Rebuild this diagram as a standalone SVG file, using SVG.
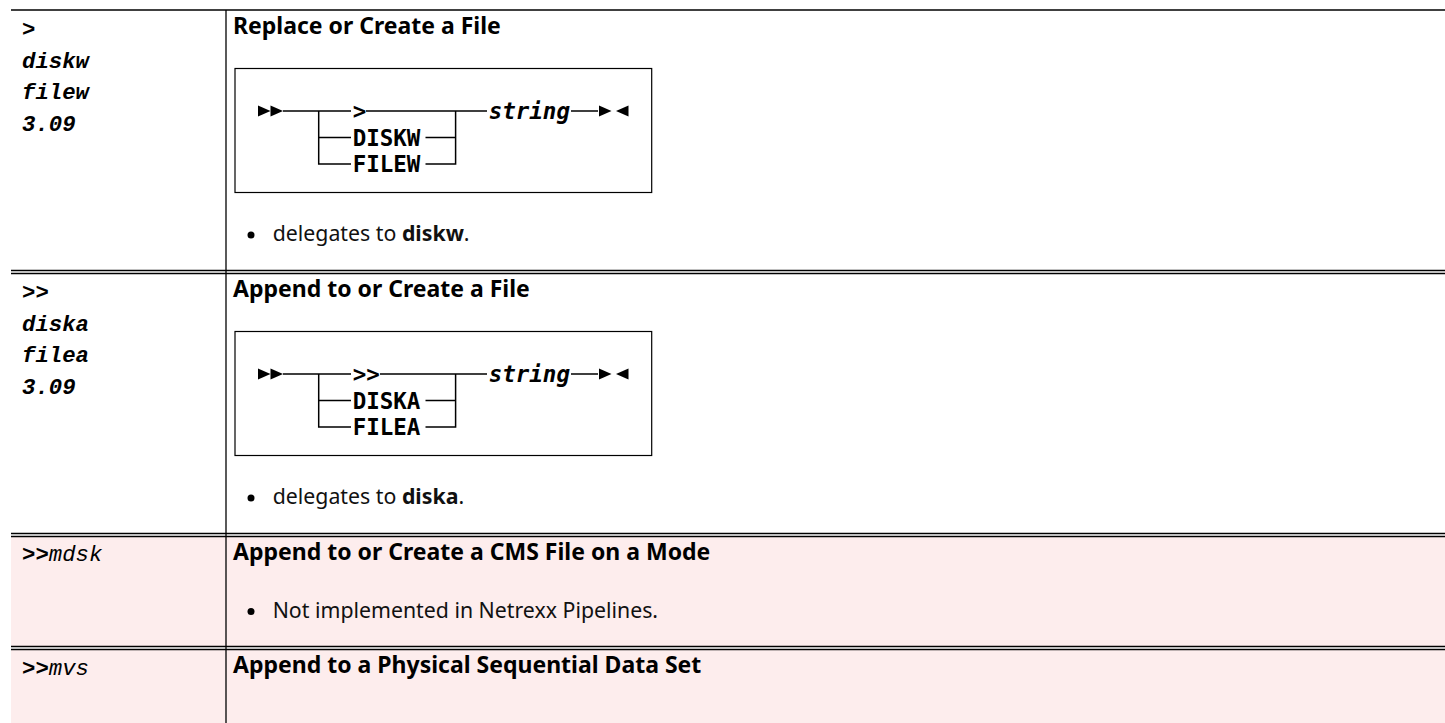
<svg xmlns="http://www.w3.org/2000/svg" width="1445" height="723" viewBox="0 0 1445 723">
<style>
.rule{stroke:#000;stroke-width:1.3;fill:none}
.box{stroke:#000;stroke-width:1.2;fill:none}
.rail{stroke:#000;stroke-width:1.5;fill:none}
.cmd{font-family:"Liberation Mono","Courier New",monospace;font-size:22.3px;font-weight:bold;font-style:italic;fill:#000}
.up{font-style:normal}
.thin{font-weight:normal}
.head{font-family:"Noto Sans","Open Sans",sans-serif;font-size:23px;font-weight:bold;fill:#000}
.body{font-family:"Noto Sans","Open Sans",sans-serif;font-size:21.3px;fill:#111}
.kw{font-family:"DejaVu Sans Mono",monospace;font-size:22.5px;font-weight:bold;fill:#000}
.var{font-style:italic}
.tri{fill:#000}
</style>
<defs>
<g id="syn-frame">
<rect class="box" x="235" y="68.5" width="416.7" height="124"/>
<polygon class="tri" points="258,105.5 270.5,111 258,116.5"/>
<polygon class="tri" points="270.5,105.5 283,111 270.5,116.5"/>
<polygon class="tri" points="599,105.5 611.5,111 599,116.5"/>
<polygon class="tri" points="628.5,105.5 616,111 628.5,116.5"/>
<text class="kw var" x="488.7" y="119.2">string</text>
</g>
</defs>
<rect x="11" y="536.5" width="1434" height="110" fill="#fdeded"/>
<rect x="11" y="650" width="1434" height="73" fill="#fdeded"/>
<g id="table-rules">
<line class="rule" x1="11" y1="10" x2="1445" y2="10"/>
<line class="rule" x1="11" y1="270.5" x2="1445" y2="270.5"/>
<line class="rule" x1="11" y1="273.5" x2="1445" y2="273.5"/>
<line class="rule" x1="11" y1="533.5" x2="1445" y2="533.5"/>
<line class="rule" x1="11" y1="536.5" x2="1445" y2="536.5"/>
<line class="rule" x1="11" y1="646.5" x2="1445" y2="646.5"/>
<line class="rule" x1="11" y1="649.5" x2="1445" y2="649.5"/>
<line class="rule" x1="226" y1="10" x2="226" y2="723"/>
</g>
<g id="row1">
<g id="row1-names">
<text class="cmd up" x="22" y="36">&gt;</text>
<text class="cmd" x="22" y="67.5">diskw</text>
<text class="cmd" x="22" y="99">filew</text>
<text class="cmd" x="22" y="130.5">3.09</text>
</g>
<text class="head" x="233" y="33.5">Replace or Create a File</text>
<g id="row1-syntax">
<use href="#syn-frame"/>
<text class="kw" x="352.7" y="119.2">&gt;</text>
<text class="kw" x="352.7" y="145.7">DISKW</text>
<text class="kw" x="352.7" y="172.2">FILEW</text>
</g>
<circle cx="251" cy="235" r="3.5"/>
<text class="body" x="272.7" y="241">delegates to <tspan font-weight="bold">diskw</tspan>.</text>
</g>
<g id="row2" transform="translate(0,263)">
<g id="row2-names">
<text class="cmd up" x="22" y="36">&gt;&gt;</text>
<text class="cmd" x="22" y="67.5">diska</text>
<text class="cmd" x="22" y="99">filea</text>
<text class="cmd" x="22" y="130.5">3.09</text>
</g>
<text class="head" x="233" y="33.5">Append to or Create a File</text>
<g id="row2-syntax">
<use href="#syn-frame"/>
<text class="kw" x="352.7" y="119.2">&gt;&gt;</text>
<text class="kw" x="352.7" y="145.7">DISKA</text>
<text class="kw" x="352.7" y="172.2">FILEA</text>
</g>
<circle cx="251" cy="235" r="3.5"/>
<text class="body" x="272.7" y="241">delegates to <tspan font-weight="bold">diska</tspan>.</text>
</g>
<g id="row3">
<text class="cmd up" x="22" y="561">&gt;&gt;<tspan class="thin" font-style="italic">mdsk</tspan></text>
<text class="head" x="233" y="559.5">Append to or Create a CMS File on a Mode</text>
<circle cx="251" cy="611.5" r="3.5"/>
<text class="body" x="272.7" y="617.5">Not implemented in Netrexx Pipelines.</text>
</g>
<g id="row4">
<text class="cmd up" x="22" y="674.5">&gt;&gt;<tspan class="thin" font-style="italic">mvs</tspan></text>
<text class="head" x="233" y="673">Append to a Physical Sequential Data Set</text>
</g>
<g id="connectors">
<g id="rails1">
<path class="rail" d="M283 111H351 M366 111H487 M571 111H598"/>
<path class="rail" d="M318.7 111V164H351 M318.7 137.5H351"/>
<path class="rail" d="M425.5 137.5H455.6 M425.5 164H455.6V111"/>
</g>
<g id="rails2" transform="translate(0,263)">
<path class="rail" d="M283 111H351 M380 111H487 M571 111H598"/>
<path class="rail" d="M318.7 111V164H351 M318.7 137.5H351"/>
<path class="rail" d="M425.5 137.5H455.6 M425.5 164H455.6V111"/>
</g>
</g>
</svg>
